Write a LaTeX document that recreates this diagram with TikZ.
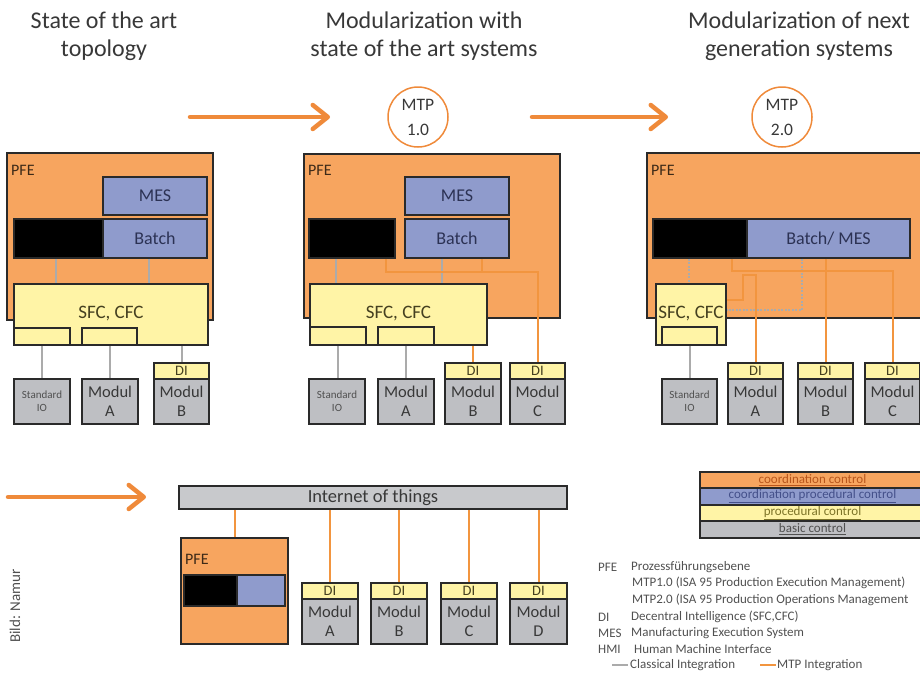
\documentclass[tikz,border=0pt]{standalone}
\usepackage{fontspec}
\setmainfont{Carlito}
\usetikzlibrary{arrows.meta,calc}
\definecolor{cor}{HTML}{F7A55F}
\definecolor{carr}{HTML}{EF8A3A}
\definecolor{cln}{HTML}{F2953F}
\definecolor{cblu}{HTML}{8F9BCC}
\definecolor{cyel}{HTML}{FFF4A6}
\definecolor{cgry}{HTML}{BEBFC3}
\definecolor{cgl}{HTML}{ABABAB}
\definecolor{bdr}{HTML}{2A2A2A}
\definecolor{ctxt}{HTML}{383838}
\definecolor{cbt}{HTML}{2C3254}
\definecolor{cyt}{HTML}{454020}
\definecolor{cmt}{HTML}{383838}
\definecolor{cpt}{HTML}{3D2A18}
\definecolor{clg}{HTML}{505050}
\definecolor{r1t}{HTML}{B9561C}
\definecolor{r2t}{HTML}{44508A}
\definecolor{r3t}{HTML}{7D7428}
\newcommand\myfs[2]{\fontsize{#1}{#2}\selectfont}
\newcommand{\rbox}[7]{\node[#1, minimum width={(#5)-(#3)}, minimum height={(#6)-(#4)}] (#2) at ({((#3)+(#5))/2},{((#4)+(#6))/2}) {#7};}
\begin{document}
\begin{tikzpicture}[x=1pt,y=-1pt,
  bx/.style={draw=bdr, line width=1.6pt, inner sep=0pt, align=center},
  pfebox/.style={bx, fill=cor},
  blubox/.style={bx, fill=cblu, text=cbt, font=\myfs{18}{20}},
  blkbox/.style={bx, fill=black},
  yelbox/.style={bx, fill=cyel, text=cyt, font=\myfs{19}{20}},
  subbox/.style={bx, fill=cyel},
  dibox/.style={bx, fill=cyel, text=cyt, font=\myfs{14.5}{14}},
  modbox/.style={bx, fill=cgry, text=cmt, font=\myfs{16.5}{19}},
  siobox/.style={bx, fill=cgry, text=clg, font=\myfs{11}{13}},
  iotbox/.style={bx, fill=cgry!85, text=ctxt, font=\myfs{18.5}{18}},
  rowbox/.style={bx, font=\myfs{13}{13}},
  gline/.style={draw=cgl, line width=2pt},
  oline/.style={draw=cln, line width=2pt},
  dline/.style={draw=cgl, line width=2pt, dash pattern=on 2pt off 1.5pt},
  bigarrow/.style={draw=carr, line width=4.5pt, line cap=round, -{Straight Barb[length=15pt,width=24pt,round]}},
  mtp/.style={circle, draw=carr, line width=1.5pt, minimum size=60pt, inner sep=0pt, align=center, font=\myfs{17.5}{25}, text=ctxt},
  title/.style={align=center, font=\myfs{24}{28}, text=ctxt},
  pfel/.style={anchor=west, inner sep=0pt, font=\myfs{16}{16}, text=cpt},
  leg/.style={anchor=west, inner sep=0pt, font=\myfs{13}{13}, text=clg}
]
\useasboundingbox (0,0) rectangle (920,675);
\clip (0,0) rectangle (920,675);

% titles
\node[title] (t1) at (104,36) {State of the art\\topology};
\node[title] (t2) at (424,36) {Modularization with\\state of the art systems};
\node[title] (t3) at (799,36) {Modularization of next\\generation systems};

% MTP circles and arrows
\node[mtp] (m1) at (418,117) {MTP\\1.0};
\node[mtp] (m2) at (782,117) {MTP\\2.0};
\coordinate (a1s) at (190,117); \coordinate (a1e) at (330,117);
\coordinate (a2s) at (532,117); \coordinate (a2e) at (668,117);
\coordinate (a3s) at (8,497);   \coordinate (a3e) at (146,497);
\draw[bigarrow] (a1s) -- (a1e);
\draw[bigarrow] (a2s) -- (a2e);
\draw[bigarrow] (a3s) -- (a3e);

% ---------- panel 1
\rbox{pfebox}{pfe1}{7}{153}{213}{320}{}
\node[pfel] (pl1) at (11,170) {PFE};
\rbox{blubox}{mes1}{103}{177}{207}{215}{MES}
\rbox{blkbox}{blk1}{14}{219}{103}{258}{}
\rbox{blubox}{bat1}{103}{219}{207}{258}{Batch}
\rbox{yelbox}{sfc1}{14}{284}{208}{345}{\raisebox{5pt}{SFC, CFC}}
\rbox{subbox}{sub1a}{14}{328}{70}{345}{}
\rbox{subbox}{sub1b}{82}{328}{137}{345}{}
\rbox{siobox}{sio1}{14}{379}{70}{424}{Standard\\IO}
\rbox{modbox}{ma1}{82}{379}{138}{424}{Modul\\A}
\rbox{dibox}{di1b}{154}{363}{209}{379}{DI}
\rbox{modbox}{mb1}{154}{379}{209}{424}{Modul\\B}

% ---------- panel 2
\rbox{pfebox}{pfe2}{304}{154}{560}{318}{}
\node[pfel] (pl2) at (308,170) {PFE};
\rbox{blubox}{mes2}{405}{177}{509}{215}{MES}
\rbox{blkbox}{blk2}{309}{219}{395}{258}{}
\rbox{blubox}{bat2}{405}{219}{509}{258}{Batch}
\rbox{yelbox}{sfc2}{310}{284}{487}{345}{\raisebox{5pt}{SFC, CFC}}
\rbox{subbox}{sub2a}{310}{327}{366}{345}{}
\rbox{subbox}{sub2b}{378}{327}{434}{345}{}
\rbox{siobox}{sio2}{309}{379}{365}{424}{Standard\\IO}
\rbox{modbox}{ma2}{378}{379}{434}{424}{Modul\\A}
\rbox{dibox}{di2b}{445}{363}{501}{379}{DI}
\rbox{modbox}{mb2}{445}{379}{501}{424}{Modul\\B}
\rbox{dibox}{di2c}{510}{363}{565}{379}{DI}
\rbox{modbox}{mc2}{510}{379}{565}{424}{Modul\\C}

% ---------- panel 3
\rbox{pfebox}{pfe3}{647}{153}{940}{318}{}
\node[pfel] (pl3) at (651,170) {PFE};
\rbox{blkbox}{blk3}{653}{219}{747}{258}{}
\rbox{blubox}{bm3}{747}{219}{910}{258}{Batch/ MES}
\rbox{yelbox}{sfc3}{656}{284}{726}{345}{\raisebox{5pt}{SFC, CFC}}
\rbox{subbox}{sub3}{662}{327}{717}{345}{}
\rbox{siobox}{sio3}{662}{379}{717}{424}{Standard\\IO}
\rbox{dibox}{di3a}{728}{363}{783}{379}{DI}
\rbox{modbox}{ma3}{728}{379}{783}{424}{Modul\\A}
\rbox{dibox}{di3b}{798}{363}{853}{379}{DI}
\rbox{modbox}{mb3}{798}{379}{853}{424}{Modul\\B}
\rbox{dibox}{di3c}{865}{363}{920}{379}{DI}
\rbox{modbox}{mc3}{865}{379}{920}{424}{Modul\\C}

% ---------- bottom
\rbox{iotbox}{iot}{179}{486}{567}{509}{Internet of things}
\rbox{pfebox}{pfe4}{181}{538}{288}{644}{}
\node[pfel] (pl4) at (185,559) {PFE};
\rbox{blkbox}{blk4}{184}{575}{237}{606}{}
\rbox{blubox}{blu4}{237}{575}{285}{606}{}
\rbox{dibox}{di4a}{302}{583}{358}{599}{DI}
\rbox{modbox}{m4a}{302}{599}{358}{644}{Modul\\A}
\rbox{dibox}{di4b}{371}{583}{427}{599}{DI}
\rbox{modbox}{m4b}{371}{599}{427}{644}{Modul\\B}
\rbox{dibox}{di4c}{441}{583}{497}{599}{DI}
\rbox{modbox}{m4c}{441}{599}{497}{644}{Modul\\C}
\rbox{dibox}{di4d}{510}{583}{567}{599}{DI}
\rbox{modbox}{m4d}{510}{599}{567}{644}{Modul\\D}

% ---------- connectors panel 1
\draw[gline] ($(blk1.south west)+(43,0)$) -- ($(sfc1.north west)+(43,0)$);
\draw[gline] ($(bat1.south west)+(47,0)$) -- ($(sfc1.north west)+(136,0)$);
\draw[gline] (sub1a.south) -- (sub1a.south |- sio1.north);
\draw[gline] (sub1b.south) -- (sub1b.south |- ma1.north);
\draw[gline] (sfc1.south -| di1b) -- (di1b.north);

% ---------- connectors panel 2
\draw[gline] ($(blk2.south west)+(28,0)$) -- ($(sfc2.north west)+(27,0)$);
\draw[gline] ($(bat2.south west)+(38,0)$) -- ($(sfc2.north west)+(133,0)$);
\draw[gline] (sub2a.south) -- (sub2a.south |- sio2.north);
\draw[gline] (sub2b.south) -- (sub2b.south |- ma2.north);
\draw[oline] (sfc2.south -| di2b) -- (di2b.north);
\draw[oline] ($(blk2.south west)+(78,0)$) -- ++(0,13) -| (di2c.north);
\draw[oline] ($(bat2.south west)+(78,0)$) -- ++(0,13);

% ---------- connectors panel 3
\draw[dline] ($(blk3.south west)+(37,0)$) -- ($(sfc3.north west)+(34,0)$);
\draw[dline] ($(bm3.south west)+(56,0)$) |- ($(sfc3.east)+(0,-4.5)$);
\draw[gline] (sub3.south) -- (sub3.south |- sio3.north);
\draw[oline] ($(blk3.south west)+(80,0)$) -- ++(0,12) -| (di3c.north);
\draw[oline] (bm3.south -| di3b) -- (di3b.north);
\draw[oline] ($(sfc3.east)+(0,-14.5)$) -- ++(16,0) -- ++(0,-25) -| (di3a.north);

% ---------- connectors bottom
\draw[oline] (iot.south -| pfe4) -- (pfe4.north);
\foreach \d in {di4a,di4b,di4c,di4d}
  \draw[oline] (iot.south -| \d) -- (\d.north);

% ---------- colour legend
\rbox{rowbox,fill=cor,text=r1t}{r1}{700}{472}{925}{488}{\underline{coordination control}}
\rbox{rowbox,fill=cblu,text=r2t}{r2}{700}{488}{925}{505}{\underline{coordination procedural control}}
\rbox{rowbox,fill=cyel,text=r3t}{r3}{700}{505}{925}{521}{\underline{procedural control}}
\rbox{rowbox,fill=cgry,text=clg}{r4}{700}{521}{925}{538}{\underline{basic control}}

% ---------- text legend
\node[leg] (lk1) at (598,567) {PFE};
\node[leg] (lv1) at (631,567) {Prozessführungsebene};
\node[leg] (lv2) at (632,583) {MTP1.0 (ISA 95 Production Execution Management)};
\node[leg] (lv3) at (632,600) {MTP2.0 (ISA 95 Production Operations Management};
\node[leg] (lk4) at (598,617) {DI};
\node[leg] (lv4) at (631,617) {Decentral Intelligence (SFC,CFC)};
\node[leg] (lk5) at (598,633) {MES};
\node[leg] (lv5) at (631,633) {Manufacturing Execution System};
\node[leg] (lk6) at (598,649) {HMI};
\node[leg] (lv6) at (634,649) {Human Machine Interface};
\node[leg] (lv7) at (630,665) {Classical Integration};
\node[leg] (lv8) at (777,665) {MTP Integration};
\draw[gline] ([xshift=-2pt]lv7.west) -- ++(-16,0);
\draw[oline] ([xshift=-1pt]lv8.west) -- ++(-16,0);

% credit
\node[rotate=90, font=\myfs{15}{15}, text=clg] (bild) at (15,606) {Bild: Namur};
\end{tikzpicture}
\end{document}
